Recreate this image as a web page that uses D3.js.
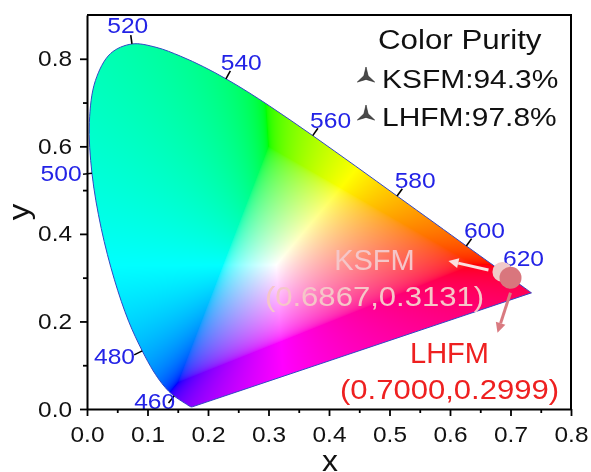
<!DOCTYPE html>
<html>
<head>
<meta charset="utf-8">
<script src="https://cdn.jsdelivr.net/npm/d3@7"></script>
<style>
  html, body { margin: 0; padding: 0; background: #fff; }
  #chart { position: relative; width: 591px; height: 472px; overflow: hidden; }
  #chart canvas, #chart svg { position: absolute; left: 0; top: 0; }
  text { font-family: Arial, "Liberation Sans", Helvetica, sans-serif; }
</style>
</head>
<body>
<div id="chart"></div>
<script>
// CIE 1931 2° spectral locus, 380–700 nm in 5 nm steps
const wavelengths = [380,385,390,395,400,405,410,415,420,425,430,435,440,445,450,455,460,465,470,475,
  480,485,490,495,500,505,510,515,520,525,530,535,540,545,550,555,560,565,570,575,
  580,585,590,595,600,605,610,615,620,625,630,635,640,645,650,655,660,665,670,675,
  680,685,690,695,700];
const locusX = [0.1741,0.1740,0.1738,0.1736,0.1733,0.1730,0.1726,0.1721,0.1714,0.1703,0.1689,0.1669,0.1644,0.1611,0.1566,0.1510,0.1440,0.1355,0.1241,0.1096,
  0.0913,0.0687,0.0454,0.0235,0.0082,0.0039,0.0139,0.0389,0.0743,0.1142,0.1547,0.1929,0.2296,0.2658,0.3016,0.3373,0.3731,0.4087,0.4441,0.4788,
  0.5125,0.5448,0.5752,0.6029,0.6270,0.6482,0.6658,0.6801,0.6915,0.7006,0.7079,0.7140,0.7190,0.7230,0.7260,0.7283,0.7300,0.7311,0.7320,0.7327,
  0.7334,0.7340,0.7344,0.7346,0.7347];
const locusY = [0.0050,0.0050,0.0049,0.0049,0.0048,0.0048,0.0048,0.0048,0.0051,0.0058,0.0069,0.0086,0.0109,0.0138,0.0177,0.0227,0.0297,0.0399,0.0578,0.0868,
  0.1327,0.2007,0.2950,0.4127,0.5384,0.6548,0.7502,0.8120,0.8338,0.8262,0.8059,0.7816,0.7543,0.7243,0.6923,0.6589,0.6245,0.5896,0.5547,0.5202,
  0.4866,0.4544,0.4242,0.3965,0.3725,0.3514,0.3340,0.3197,0.3083,0.2993,0.2920,0.2859,0.2809,0.2770,0.2740,0.2717,0.2700,0.2689,0.2680,0.2673,
  0.2666,0.2660,0.2656,0.2654,0.2653];
const labelledWavelengths = [460,480,500,520,540,560,580,600,620];

const xTicks = [0,0.1,0.2,0.3,0.4,0.5,0.6,0.7,0.8];
const xTickLabels = ["0.0","0.1","0.2","0.3","0.4","0.5","0.6","0.7","0.8"];
const xMinorTicks = [0.05,0.15,0.25,0.35,0.45,0.55,0.65,0.75];
const yTicks = [0,0.2,0.4,0.6,0.8];
const yTickLabels = ["0.0","0.2","0.4","0.6","0.8"];
const yMinorTicks = [0.1,0.3,0.5,0.7];

const samples = ["KSFM","LHFM"];
const sampleX = [0.6867,0.7000];
const sampleY = [0.3131,0.2999];
const purity = [94.3,97.8];

const W = 591, H = 472;
const margin = { left: 87, right: 20, top: 15, bottom: 63 };
const x = d3.scaleLinear().domain([0, 0.8]).range([margin.left, W - margin.right]);
const y = d3.scaleLinear().domain([0, 0.9]).range([H - margin.bottom, margin.top]);

const root = d3.select("#chart");
const canvas = root.append("canvas").attr("width", W).attr("height", H);
const svg = root.append("svg").attr("width", W).attr("height", H);

// ---- spectral locus outline (smooth curve) + line of purples ----
const locus = wavelengths.map((w, i) => [locusX[i], locusY[i]]);
const poly = locus.map(d => [x(d[0]), y(d[1])]);
const locusLine = d3.line().curve(d3.curveCatmullRom.alpha(0.5));
const outline = svg.append("path")
  .attr("d", locusLine(poly) + "Z")
  .attr("fill", "none").attr("stroke", "#3347c4").attr("stroke-width", 1);

// dense polygon following the drawn outline, used for the colour fill
const outlineNode = outline.node();
const total = outlineNode.getTotalLength();
const dense = d3.range(0, total, 0.5).map(t => {
  const p = outlineNode.getPointAtLength(t);
  return [p.x, p.y];
});

function gammaEncode(c) {
  return c <= 0.0031308 ? 12.92 * c : 1.055 * Math.pow(c, 1 / 2.4) - 0.055;
}
function chromaColor(cx, cy) {
  const X = cx, Y = cy, Z = 1 - cx - cy;
  let r = 3.2406 * X - 1.5372 * Y - 0.4986 * Z;
  let g = -0.9689 * X + 1.8758 * Y + 0.0415 * Z;
  let b = 0.0557 * X - 0.2040 * Y + 1.0570 * Z;
  const m = Math.min(r, g, b);
  if (m < 0) { r -= m; g -= m; b -= m; }
  const M = Math.max(r, g, b);
  r /= M; g /= M; b /= M;
  return [gammaEncode(r) * 255, gammaEncode(g) * 255, gammaEncode(b) * 255];
}

(function paint() {
  const ctx = canvas.node().getContext("2d");
  const img = ctx.createImageData(W, H);
  const x0 = Math.floor(d3.min(dense, p => p[0])), x1 = Math.ceil(d3.max(dense, p => p[0]));
  const y0 = Math.floor(d3.min(dense, p => p[1])), y1 = Math.ceil(d3.max(dense, p => p[1]));
  const S = 3; // supersampling per axis for smooth edges
  for (let py = y0; py <= y1; py++) {
    for (let px = x0; px <= x1; px++) {
      let cov = 0;
      for (let sy = 0; sy < S; sy++) for (let sx = 0; sx < S; sx++) {
        if (d3.polygonContains(dense, [px + (sx + 0.5) / S, py + (sy + 0.5) / S])) cov++;
      }
      if (!cov) continue;
      const c = chromaColor(x.invert(px + 0.5), y.invert(py + 0.5));
      const k = (py * W + px) * 4;
      img.data[k] = c[0]; img.data[k + 1] = c[1]; img.data[k + 2] = c[2];
      img.data[k + 3] = Math.round(255 * cov / (S * S));
    }
  }
  ctx.putImageData(img, 0, 0);
})();

// ---- wavelength ticks and labels ----
const wlGroup = svg.append("g");
labelledWavelengths.forEach(w => {
  const i = wavelengths.indexOf(w);
  const p = poly[i], pa = poly[i - 1], pb = poly[i + 1];
  let tx = pb[0] - pa[0], ty = pb[1] - pa[1];
  const len = Math.hypot(tx, ty); tx /= len; ty /= len;
  // outward normal of the locus
  const nx = ty, ny = -tx;
  const tl = 9;
  const ex = p[0] + nx * tl, ey = p[1] + ny * tl;
  wlGroup.append("line")
    .attr("x1", p[0]).attr("y1", p[1]).attr("x2", ex).attr("y2", ey)
    .attr("stroke", "#000").attr("stroke-width", 1.6);
  const cx = ex + nx * 22;
  const cy = Math.min(ey + ny * 8 - 2, y(0) - 8);
  wlGroup.append("text")
    .attr("transform", `translate(${cx},${cy}) scale(1.12,1)`)
    .attr("text-anchor", "middle").attr("dy", "0.36em")
    .attr("font-size", 22).attr("fill", "#2323e6")
    .text(w);
});

// ---- axes ----
const axisColor = "#000";
const gx = svg.append("g").attr("transform", `translate(0,${y(0)})`)
  .call(d3.axisBottom(x).tickValues(xTicks).tickFormat((d, i) => xTickLabels[i])
    .tickSize(7).tickSizeOuter(0).tickPadding(10));
svg.append("g").attr("transform", `translate(0,${y(0)})`)
  .call(d3.axisBottom(x).tickValues(xMinorTicks).tickFormat("").tickSize(4).tickSizeOuter(0))
  .call(g => g.select(".domain").remove());
const gy = svg.append("g").attr("transform", `translate(${x(0)},0)`)
  .call(d3.axisLeft(y).tickValues(yTicks).tickFormat((d, i) => yTickLabels[i])
    .tickSize(7).tickSizeOuter(0).tickPadding(8));
svg.append("g").attr("transform", `translate(${x(0)},0)`)
  .call(d3.axisLeft(y).tickValues(yMinorTicks).tickFormat("").tickSize(4).tickSizeOuter(0))
  .call(g => g.select(".domain").remove());

svg.selectAll(".domain").attr("stroke", axisColor).attr("stroke-width", 2);
svg.selectAll(".tick line").attr("stroke", axisColor).attr("stroke-width", 1.8);
gx.selectAll(".tick text")
  .attr("font-size", 22).attr("font-family", null).attr("fill", "#111")
  .attr("transform", "scale(1.11,1)");
gy.selectAll(".tick text")
  .attr("font-size", 22).attr("font-family", null).attr("fill", "#111")
  .attr("x", 0).attr("transform", "translate(-15,0) scale(1.11,1)");

// frame: top and right edges
svg.append("path")
  .attr("d", `M${x(0)},${y(0.9)}H${x(0.8)}V${y(0)}`)
  .attr("fill", "none").attr("stroke", "#000").attr("stroke-width", 2);

// axis titles
svg.append("text")
  .attr("transform", `translate(${(x(0) + x(0.8)) / 2 + 1},471) scale(1.1,1)`)
  .attr("text-anchor", "middle").attr("font-size", 29).attr("fill", "#111").text("x");
svg.append("text")
  .attr("transform", `translate(29,${y(0.45)}) rotate(-90) scale(1.1,1)`)
  .attr("text-anchor", "middle").attr("font-size", 30).attr("fill", "#111").text("y");

// ---- legend ----
const legend = svg.append("g");
legend.append("text")
  .attr("transform", "translate(378,49) scale(1.16,1)")
  .attr("font-size", 27).attr("fill", "#111").text("Color Purity");
const starPath = (() => {
  const R = 10, r = 2.4, pts = [];
  for (let k = 0; k < 6; k++) {
    const a = -Math.PI / 2 + k * Math.PI / 3;
    const rad = k % 2 === 0 ? R : r;
    pts.push([Math.cos(a) * rad, Math.sin(a) * rad]);
  }
  return "M" + pts.map(p => p.join(",")).join("L") + "Z";
})();
samples.forEach((s, i) => {
  const baseline = 88 + i * 38;
  legend.append("path")
    .attr("d", starPath)
    .attr("transform", `translate(366,${baseline - 11})`)
    .attr("fill", "#4a4a4a").attr("stroke", "#222").attr("stroke-width", 0.6);
  legend.append("text")
    .attr("transform", `translate(382,${baseline}) scale(1.13,1)`)
    .attr("font-size", 26.5).attr("fill", "#111")
    .text(`${s}:${purity[i].toFixed(1)}%`);
});

// ---- sample points, arrows and annotations ----
const pointFill = ["#f1c9c9", "#d9767d"];
const arrowColor = ["#fbe0e0", "#d97a80"];
const textColor = ["#f5c6c8", "#ee2020"];
// arrow start/end and text anchor, relative to each point
const arrowFrom = [[-14, -2], [0, 15]];
const arrowTo = [[-54, -11], [-13, 55]];
const nameAt = [[-128, -2], [-61, 85]];

function arrow(g, x1, y1, x2, y2, color) {
  const a = Math.atan2(y2 - y1, x2 - x1);
  const hl = 10, hw = 5;
  const bx = x2 - Math.cos(a) * hl, by = y2 - Math.sin(a) * hl;
  g.append("line").attr("x1", x1).attr("y1", y1).attr("x2", bx).attr("y2", by)
    .attr("stroke", color).attr("stroke-width", 3);
  g.append("path")
    .attr("d", `M${x2},${y2}L${bx - Math.sin(a) * hw},${by + Math.cos(a) * hw}L${bx + Math.sin(a) * hw},${by - Math.cos(a) * hw}Z`)
    .attr("fill", color);
}

const marks = svg.append("g");
samples.forEach((s, i) => {
  const px = x(sampleX[i]), py = y(sampleY[i]);
  marks.append("circle").attr("cx", px).attr("cy", py).attr("r", i === 0 ? 10 : 11)
    .attr("fill", pointFill[i]);
});
samples.forEach((s, i) => {
  const px = x(sampleX[i]), py = y(sampleY[i]);
  arrow(marks, px + arrowFrom[i][0], py + arrowFrom[i][1], px + arrowTo[i][0], py + arrowTo[i][1], arrowColor[i]);
  const tx = px + nameAt[i][0], ty = py + nameAt[i][1];
  marks.append("text")
    .attr("transform", `translate(${tx},${ty})`)
    .attr("text-anchor", "middle").attr("font-size", 29).attr("fill", textColor[i])
    .text(s);
  marks.append("text")
    .attr("transform", `translate(${tx},${ty + 36}) scale(1.15,1)`)
    .attr("text-anchor", "middle").attr("font-size", 27).attr("fill", textColor[i])
    .text(`(${sampleX[i].toFixed(4)},${sampleY[i].toFixed(4)})`);
});
</script>
</body>
</html>
